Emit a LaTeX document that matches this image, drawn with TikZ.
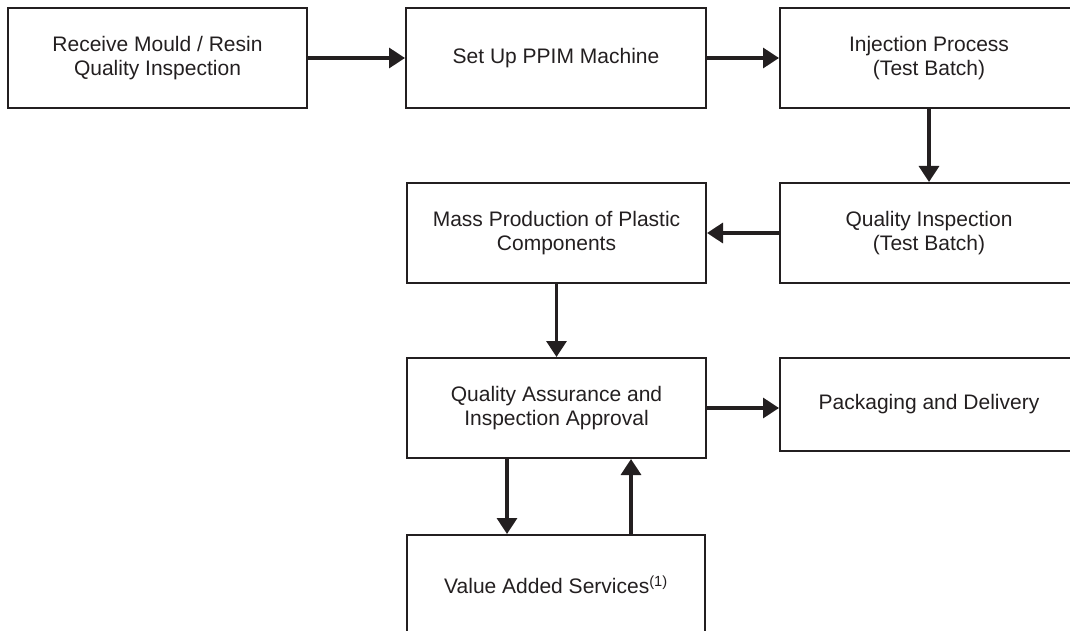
\documentclass[tikz,border=0pt]{standalone}
\usepackage{fontspec}
\setmainfont{Liberation Sans}
\usetikzlibrary{arrows.meta}
\definecolor{ink}{HTML}{231F20}
\begin{document}
\begin{tikzpicture}[x=1pt,y=-1pt,
  box/.style={draw=ink, line width=2pt, rectangle, minimum width=#1, align=center,
    text=ink, inner sep=0pt, font=\fontsize{21}{23.5}\selectfont},
  box/.default=299pt,
  arr/.style={draw=ink, line width=3.3pt, -{Triangle[length=16pt,width=20pt]}}]
\useasboundingbox (0,0) rectangle (1070,631);
\clip (0,0) rectangle (1070,631);
\node[box, minimum height=100pt] (b1) at (157.5,58) {Receive Mould / Resin\\Quality Inspection};
\node[box=300pt, minimum height=100pt] (b2) at (556,58) {Set Up PPIM Machine};
\node[box=298pt, minimum height=100pt] (b3) at (929,58) {Injection Process\\(Test Batch)};
\node[box=298pt, minimum height=100pt] (b4) at (929,233) {Quality Inspection\\(Test Batch)};
\node[box, minimum height=100pt] (b5) at (556.5,233) {Mass Production of Plastic\\Components};
\node[box, minimum height=100pt] (b6) at (556.5,408) {Quality Assurance and\\Inspection Approval};
\node[box=298pt, minimum height=93pt] (b7) at (929,404.5) {Packaging and Delivery};
\node[box=298pt, minimum height=100pt] (b8) at (556,585) {Value Added Services\textsuperscript{(1)}};
\draw[arr] (b1.east) -- (b2.west);
\draw[arr] (b2.east) -- (b3.west);
\draw[arr] (b3.south) -- (b4.north);
\draw[arr] (b4.west) -- (b5.east);
\draw[arr] (b5.south) -- (b6.north);
\draw[arr] (b6.east) -- (b6.east -| b7.west);
\draw[arr] ([xshift=-49.5pt]b6.south) -- ([xshift=-49pt]b8.north);
\draw[arr] ([xshift=75pt]b8.north) -- ([xshift=74.5pt]b6.south);
\end{tikzpicture}
\end{document}
